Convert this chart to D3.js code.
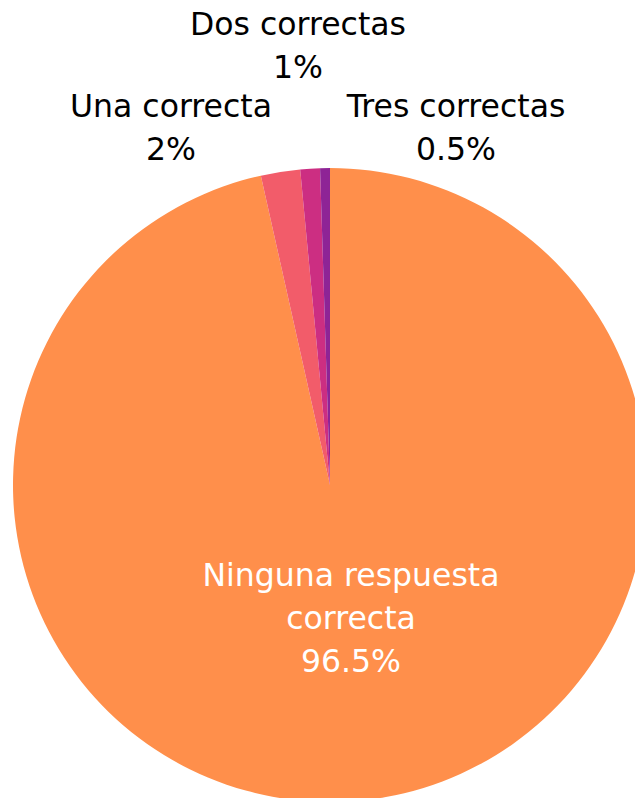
<!DOCTYPE html>
<html><head><meta charset="utf-8">
<script src="https://cdn.jsdelivr.net/npm/d3@7"></script>
<style>body{margin:0;background:#fff}svg{display:block}</style>
</head><body>
<svg id="c" width="635" height="798"></svg>
<script>
const categories = ["Ninguna respuesta correcta", "Una correcta", "Dos correctas", "Tres correctas"];
const values = [96.5, 2, 1, 0.5];
const valueLabels = ["96.5%", "2%", "1%", "0.5%"];
const colors = ["#FF8F4B", "#F25C6A", "#CC2E82", "#8E2496"];

const svg = d3.select("#c");
const cx = 330, cy = 485, r = 317;
const g = svg.append("g").attr("transform", `translate(${cx},${cy})`);
const pie = d3.pie().sort(null).value(d => d)(values);
const arc = d3.arc().innerRadius(0).outerRadius(r);
g.selectAll("path").data(pie).join("path")
  .attr("d", arc).attr("fill", (d, i) => colors[i]);

const font = "'DejaVu Sans', sans-serif";
function label(lines, x, y, fill) {
  const t = svg.append("text").attr("x", x).attr("y", y)
    .attr("text-anchor", "middle").attr("font-family", font)
    .attr("font-size", 31.5).attr("fill", fill);
  lines.forEach((l, i) => t.append("tspan").attr("x", x).attr("dy", i ? 43 : 0).text(l));
}
label(["Ninguna respuesta", "correcta", valueLabels[0]], 351, 586, "#fff");
label([categories[1], valueLabels[1]], 171, 117, "#000");
label([categories[2], valueLabels[2]], 298, 35, "#000");
label([categories[3], valueLabels[3]], 456, 117, "#000");
</script>
</body></html>
